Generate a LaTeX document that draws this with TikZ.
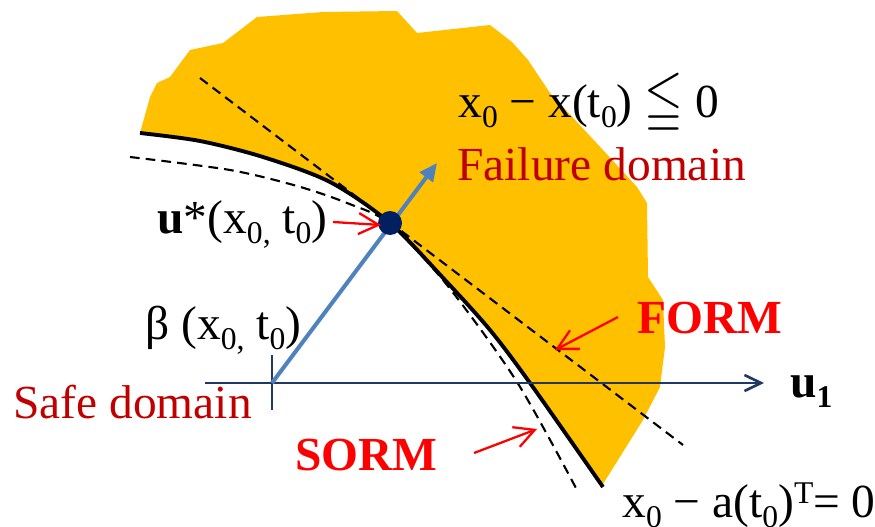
\documentclass[tikz,border=0pt]{standalone}
\usepackage{fontspec}
\usepackage{amssymb}
\usepackage{graphicx}
\setmainfont{Liberation Serif}
\usetikzlibrary{arrows.meta}
\definecolor{fillorange}{HTML}{FFC000}
\definecolor{darkred}{HTML}{C00000}
\definecolor{brightred}{HTML}{FF0000}
\definecolor{arrowblue}{HTML}{4F81BD}
\definecolor{axisnavy}{HTML}{1F3864}
\definecolor{dotnavy}{HTML}{002060}
\newcommand\lo[1]{\raisebox{-0.23em}{\fontsize{18}{18}\selectfont #1}}
\newcommand\hi[1]{\raisebox{0.28em}{\fontsize{18}{18}\selectfont #1}}
\begin{document}
\begin{tikzpicture}[x=0.02cm,y=-0.02cm,
  lbl/.style={font=\fontsize{27}{32}\selectfont, inner sep=0pt, anchor=base west},
  dashline/.style={black, line width=1.2pt, dash pattern=on 5.5pt off 3.5pt},
  limitline/.style={black, line width=2.2pt},
  redarrow/.style={brightred, line width=1.3pt, -{Straight Barb[length=4mm,width=4.2mm]}},
  dotstyle/.style={circle, fill=dotnavy, minimum size=24*0.02cm, inner sep=0pt}]
\useasboundingbox (0,0) rectangle (875,527);
% failure domain
\fill[fillorange] plot[smooth] coordinates {(140,133) (200,141) (263,157) (330,182) (390,223) (445,280) (490,330) (530,383) (603,484)}
  -- (643,420) -- (660,387) -- (665,347) -- (663,300) -- (648,277) -- (647,203) -- (637,187)
  -- (603,150) -- (550,93) -- (528,60) -- (512,42) -- (490,25) -- (417,33) -- (397,11)
  -- (323,12) -- (257,17) -- (223,43) -- (190,50) -- (170,77) -- (157,83) -- (150,97) -- cycle;
% named points
\coordinate (O) at (272,383);
\coordinate (formA) at (200,78);
\coordinate (formB) at (683,445);
\coordinate (axL) at (205,383);
\coordinate (axR) at (764,383);
\coordinate (tickT) at (272,355);
\coordinate (tickB) at (272,410);
\coordinate (betaTip) at (437,163);
% FORM tangent
\draw[dashline] (formA) -- (formB);
% SORM parabola
\draw[dashline] plot[smooth] coordinates {(130,157) (230,170) (297,186) (347,203) (390,224) (447,285) (517,382) (577,490)};
% limit state
\draw[limitline] plot[smooth] coordinates {(140,133) (200,141) (263,157) (330,182) (390,223) (445,280) (490,330) (530,383) (603,487)};
% axis
\draw[axisnavy, line width=1.5pt, -{Straight Barb[length=3.3mm,width=3.2mm]}] (axL) -- (axR);
\draw[axisnavy, line width=1.5pt] (tickT) -- (tickB);
% beta vector
\draw[arrowblue, line width=2.3pt, -{Triangle[length=3.6mm,width=3.2mm]}] (O) -- (betaTip);
% design point
\node[dotstyle] (ustar) at (390,223) {};
% labels
\node[lbl] (lsf) at (458,117) {x\lo{0} − x(t\lo{0}) \raisebox{-0.05em}{\scalebox{1.05}[1.3]{$\leqq$}} 0};
\node[lbl, text=darkred] (fail) at (457,180) {Failure domain};
\node[lbl] (ulab) at (157,233) {\textbf{u}*(x\lo{0,} t\lo{0})};
\node[lbl] (beta) at (145,339) {β (x\lo{0,} t\lo{0})};
\node[lbl, text=darkred] (safe) at (13,418) {Safe domain};
\node[lbl, text=brightred, font=\fontsize{27}{32}\selectfont\bfseries] (sorm) at (295,470) {SORM};
\node[lbl, text=brightred, font=\fontsize{27}{32}\selectfont\bfseries] (form) at (637,333) {FORM};
\node[lbl, font=\fontsize{27}{32}\selectfont\bfseries] (u1) at (790,397) {u\lo{\bfseries 1}};
\node[lbl] (glsf) at (622,517) {x\lo{0} − a(t\lo{0})\hi{T}= 0};
% red pointer arrows
\coordinate (uA) at (333,222);
\coordinate (uB) at (381,225);
\coordinate (fA) at (618,317);
\coordinate (fB) at (555,350);
\coordinate (sA) at (474,453);
\coordinate (sB) at (537,429);
\draw[redarrow] (uA) -- (uB);
\draw[redarrow] (fA) -- (fB);
\draw[redarrow] (sA) -- (sB);
\end{tikzpicture}
\end{document}
